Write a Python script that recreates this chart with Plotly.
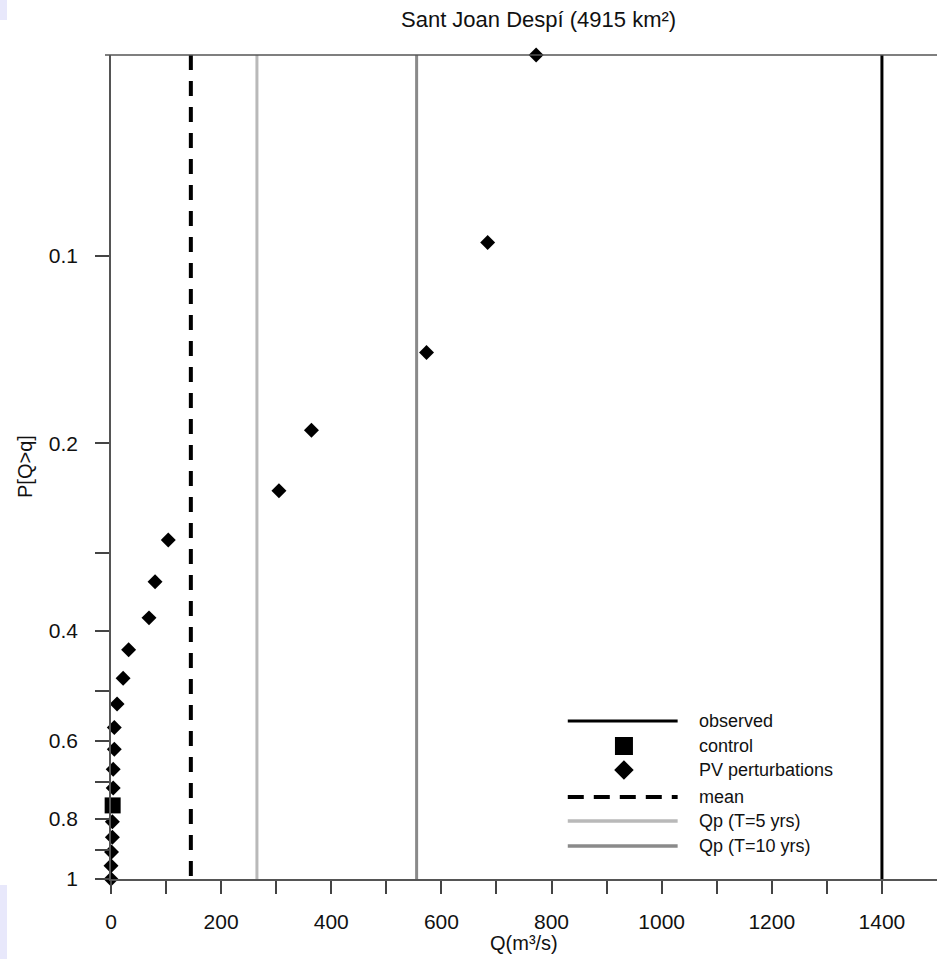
import math
import plotly.graph_objects as go

# Peak discharge (m3/s) of the PV-perturbed members, ranked high to low,
# with their exceedance probability P[Q>q]
pv_q = [772, 684, 573, 364, 305, 104, 80, 69, 32, 22, 11, 6, 6, 4, 4, 2.5, 2.5, 1, 0, 0]
pv_p = [0.0476, 0.0952, 0.1429, 0.1905, 0.2381, 0.2857, 0.3333, 0.3810, 0.4286, 0.4762,
        0.5238, 0.5714, 0.6190, 0.6667, 0.7143, 0.8095, 0.8571, 0.9048, 0.9524, 1.0]

# Control run
control_q = [3]
control_p = [0.7619]

# Reference discharges
observed_q = 1400
mean_q = 145
qp5_q = 265
qp10_q = 555

# Axis ticks
x_ticks = list(range(0, 1500, 100))
x_labels = [str(v) if v % 200 == 0 else "" for v in x_ticks]
y_ticks = [0.1, 0.2, 0.3, 0.4, 0.5, 0.6, 0.7, 0.8, 0.9, 1.0]
y_labels = ["0.1", "0.2", "", "0.4", "", "0.6", "", "0.8", "", "1"]

legend_names = ["observed", "control", "PV perturbations", "mean",
                "Qp (T=5 yrs)", "Qp (T=10 yrs)"]

FONT = "Arial, Liberation Sans, Helvetica, sans-serif"
BLACK = "#000000"
LIGHT_GREY = "#b9b9b9"
DARK_GREY = "#8a8a8a"
AXIS = "#555555"

p_top = min(pv_p + control_p)
p_bottom = 1.0

fig = go.Figure()


def vline(q, color, width, dash="solid"):
    fig.add_trace(go.Scatter(
        x=[q, q], y=[p_top, p_bottom], mode="lines",
        line=dict(color=color, width=width, dash=dash),
        hoverinfo="skip", showlegend=False))


vline(qp5_q, LIGHT_GREY, 3)
vline(qp10_q, DARK_GREY, 3)
vline(observed_q, BLACK, 3)
vline(mean_q, BLACK, 4, "15px,11px")

fig.add_trace(go.Scatter(
    x=pv_q, y=pv_p, mode="markers", cliponaxis=False,
    marker=dict(symbol="diamond", size=11.5, color=BLACK),
    showlegend=False, name="PV perturbations"))
fig.add_trace(go.Scatter(
    x=control_q, y=control_p, mode="markers", cliponaxis=False,
    marker=dict(symbol="square", size=16, color=BLACK),
    showlegend=False, name="control"))

# Key, drawn on an overlay axis spanning the plot area (0..1 both ways)
rows = [0.1917, 0.1614, 0.1323, 0.0995, 0.0704, 0.0400]
kx0, kx1, kxm, ktx = 0.553, 0.686, 0.621, 0.709
key_lines = {0: (BLACK, 3, "solid"), 3: (BLACK, 4, "16px,10px"),
             4: (LIGHT_GREY, 3.5, "solid"), 5: (DARK_GREY, 3.5, "solid")}
for i, (c, w, d) in key_lines.items():
    fig.add_trace(go.Scatter(
        x=[kx0, kx1], y=[rows[i], rows[i]], xaxis="x2", yaxis="y2",
        mode="lines", line=dict(color=c, width=w, dash=d),
        hoverinfo="skip", showlegend=False))
fig.add_trace(go.Scatter(
    x=[kxm], y=[rows[1]], xaxis="x2", yaxis="y2", mode="markers",
    marker=dict(symbol="square", size=18, color=BLACK),
    hoverinfo="skip", showlegend=False))
fig.add_trace(go.Scatter(
    x=[kxm], y=[rows[2]], xaxis="x2", yaxis="y2", mode="markers",
    marker=dict(symbol="diamond", size=15, color=BLACK),
    hoverinfo="skip", showlegend=False))

annotations = []
for name, yy in zip(legend_names, rows):
    annotations.append(dict(
        text=name, x=ktx, y=yy, xref="x2", yref="y2",
        xanchor="left", yanchor="middle", showarrow=False,
        font=dict(family=FONT, size=18, color="#111111")))

PW, PH = 826, 824  # plot area in pixels
annotations.append(dict(
    text="Q(m³/s)", x=0.5, y=-(943 - 879) / PH,
    xref="paper", yref="paper", xanchor="center", yanchor="middle",
    showarrow=False, font=dict(family=FONT, size=20, color="#111111")))
annotations.append(dict(
    text="P[Q>q]", x=(25 - 111) / PW, y=0.5, textangle=-90,
    xref="paper", yref="paper", xanchor="center", yanchor="middle",
    showarrow=False, font=dict(family=FONT, size=20, color="#111111")))
annotations.append(dict(
    text="Sant Joan Despí (4915 km²)", x=(538 - 111) / PW,
    y=1 + (55 - 19) / PH, xref="paper", yref="paper",
    xanchor="center", yanchor="middle", showarrow=False,
    font=dict(family=FONT, size=22, color="#111111")))

shapes = [
    # frame line along the top of the panel
    dict(type="line", xref="paper", yref="paper", x0=-6 / PW, x1=1, y0=1, y1=1,
         line=dict(color=AXIS, width=1.5)),
    # light lavender edges of the page
    dict(type="rect", xref="paper", yref="paper", x0=-111 / PW, x1=(7 - 111) / PW,
         y0=(879 - 959) / PH, y1=(879 - 885) / PH, fillcolor="#e8e8fb",
         line=dict(width=0), layer="below"),
    dict(type="rect", xref="paper", yref="paper", x0=-111 / PW, x1=(7 - 111) / PW,
         y0=(879 - 20) / PH, y1=(879 + 55) / PH, fillcolor="#e8e8fb",
         line=dict(width=0), layer="below"),
]

fig.update_layout(
    width=948, height=959,
    margin=dict(l=111, r=11, t=55, b=80),
    paper_bgcolor="white", plot_bgcolor="white",
    font=dict(family=FONT, color="#111111"),
    showlegend=False,
    annotations=annotations,
    shapes=shapes,
    xaxis=dict(
        range=[0, 1500], tickvals=x_ticks, ticktext=x_labels,
        ticks="outside", ticklen=13, tickwidth=1.5, tickcolor="#444444",
        showline=True, linecolor=AXIS, linewidth=1.5,
        showgrid=False, zeroline=False,
        tickfont=dict(family=FONT, size=21, color="#111111"),
        ticklabelstandoff=10),
    yaxis=dict(
        type="log", range=[math.log10(p_bottom), math.log10(p_top)],
        tickvals=y_ticks, ticktext=y_labels,
        ticks="outside", ticklen=14, tickwidth=1.5, tickcolor="#444444",
        showline=True, linecolor=AXIS, linewidth=1.5,
        showgrid=False, zeroline=False,
        tickfont=dict(family=FONT, size=21, color="#111111"),
        ticklabelstandoff=13),
    xaxis2=dict(overlaying="x", anchor="y2", range=[0, 1], visible=False),
    yaxis2=dict(overlaying="y", anchor="x2", range=[0, 1], visible=False),
)

fig.write_html("out.html")
